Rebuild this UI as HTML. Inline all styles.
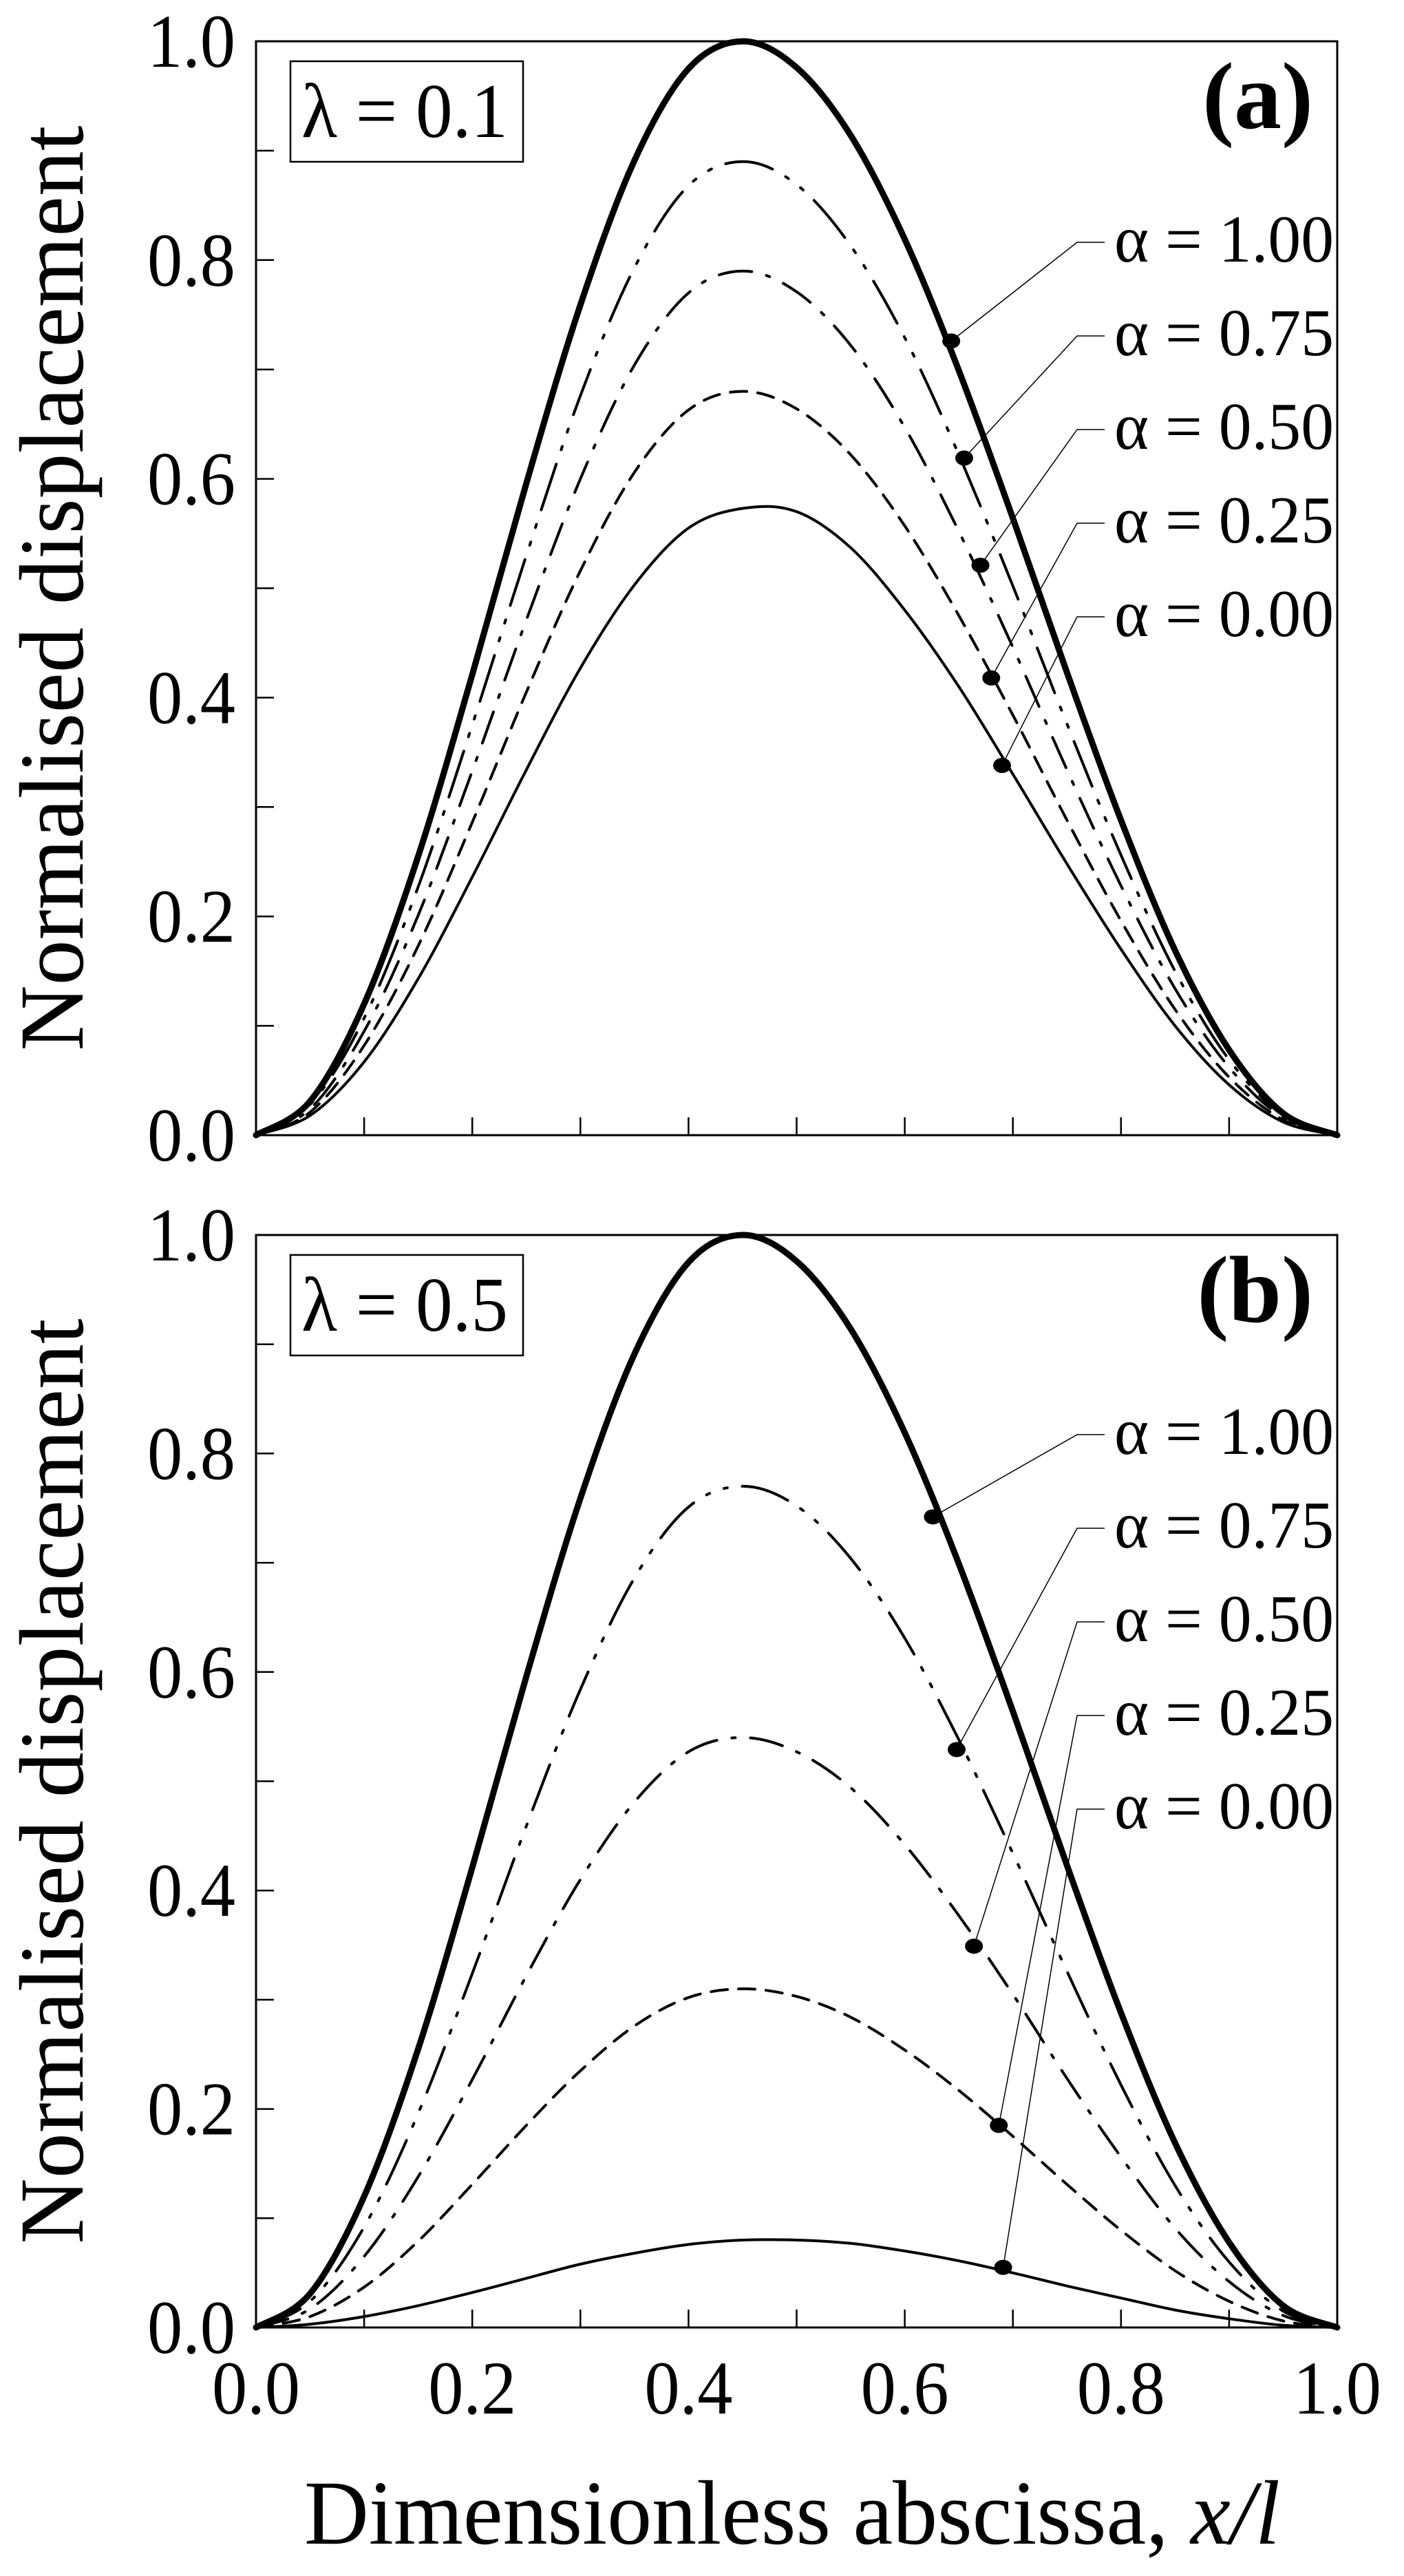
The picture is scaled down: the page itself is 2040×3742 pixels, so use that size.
<!DOCTYPE html>
<html><head><meta charset="utf-8"><style>
html,body{margin:0;padding:0;background:#fff;}
svg{display:block;}
text{font-family:"Liberation Serif","DejaVu Serif",serif;fill:#000;}
</style></head><body>
<svg id="chart" width="2040" height="3742" viewBox="0 0 2040 3742" xmlns="http://www.w3.org/2000/svg">
<rect x="0" y="0" width="2040" height="3742" fill="#fff"/>
</svg>
<script>
const xs = [0,0.05,0.1,0.15,0.2,0.25,0.3,0.35,0.4,0.45,0.5,0.55,0.6,0.65,0.7,0.75,0.8,0.85,0.9,0.95,1];
const alphaLabels = ["α = 1.00","α = 0.75","α = 0.50","α = 0.25","α = 0.00"];
const yTickLabels = ["0.0","0.2","0.4","0.6","0.8","1.0"];
const xTickLabels = ["0.0","0.2","0.4","0.6","0.8","1.0"];
const a100 = [0,0.031,0.120,0.255,0.421,0.596,0.759,0.891,0.975,1.000,0.976,0.914,0.819,0.699,0.564,0.423,0.288,0.169,0.078,0.020,0];
const a075 = [0,0.028,0.107,0.227,0.375,0.530,0.676,0.793,0.868,0.890,0.869,0.813,0.729,0.622,0.502,0.376,0.256,0.150,0.069,0.018,0];
const a050 = [0,0.024,0.095,0.201,0.333,0.471,0.600,0.704,0.770,0.790,0.771,0.722,0.647,0.552,0.446,0.334,0.228,0.134,0.062,0.016,0];
const a025 = [0,0.021,0.082,0.173,0.286,0.405,0.516,0.606,0.663,0.680,0.664,0.622,0.557,0.475,0.384,0.288,0.196,0.115,0.053,0.014,0];
const a000 = [0,0.018,0.067,0.143,0.236,0.334,0.427,0.503,0.555,0.573,0.570,0.537,0.480,0.410,0.330,0.248,0.170,0.100,0.046,0.012,0];
const b100 = [0,0.031,0.120,0.255,0.421,0.596,0.759,0.891,0.975,1.000,0.976,0.914,0.819,0.699,0.564,0.423,0.288,0.169,0.078,0.020,0];
const b075 = [0,0.024,0.092,0.196,0.324,0.459,0.584,0.686,0.751,0.770,0.752,0.704,0.631,0.538,0.434,0.326,0.222,0.130,0.060,0.015,0];
const b050 = [0,0.017,0.065,0.138,0.227,0.322,0.410,0.481,0.527,0.540,0.527,0.494,0.442,0.377,0.305,0.228,0.156,0.091,0.042,0.011,0];
const b025 = [0,0.010,0.037,0.079,0.131,0.185,0.235,0.276,0.302,0.310,0.303,0.284,0.254,0.217,0.175,0.131,0.089,0.052,0.024,0.006,0];
const b000 = [0,0.003,0.010,0.020,0.032,0.045,0.058,0.068,0.076,0.080,0.080,0.077,0.070,0.061,0.050,0.038,0.027,0.016,0.008,0.002,0];
const dotXa = [0.643,0.655,0.670,0.680,0.690];
const dotYa = [0.726,0.619,0.521,0.418,0.338];
const dotXb = [0.626,0.648,0.664,0.687,0.691];
const dotYb = [0.742,0.529,0.349,0.185,0.055];

const NS="http://www.w3.org/2000/svg";
const svg=document.getElementById('chart');
function mk(tag,attrs,parent){const e=document.createElementNS(NS,tag);for(const k in attrs)e.setAttribute(k,attrs[k]);(parent||svg).appendChild(e);return e;}

const X0=372,X1=1943;
const styles=[
 {w:9,dash:null},
 {w:4,dash:"70 22 5 22 5 22"},
 {w:4,dash:"48 22 5 22"},
 {w:4,dash:"24 16"},
 {w:4,dash:null}
];
function sx(v){return X0+v*(X1-X0);}

function panel(id,top,bottom,series,dotX,dotY,lam,tag,legendBase){
  const g=mk('g',{});
  
  
  const sy=v=>bottom-v*(bottom-top);
  // curves
  series.forEach((s,i)=>{
    const pts=xs.map((x,j)=>[sx(x),sy(s[j])]);
    let d='M'+pts[0][0]+','+pts[0][1];
    for(let j=0;j<pts.length-1;j++){
      const p0=pts[Math.max(0,j-1)],p1=pts[j],p2=pts[j+1],p3=pts[Math.min(pts.length-1,j+2)];
      const c1=[p1[0]+(p2[0]-p0[0])/6,p1[1]+(p2[1]-p0[1])/6];
      const c2=[p2[0]-(p3[0]-p1[0])/6,p2[1]-(p3[1]-p1[1])/6];
      d+=' C'+c1[0].toFixed(1)+','+c1[1].toFixed(1)+' '+c2[0].toFixed(1)+','+c2[1].toFixed(1)+' '+p2[0].toFixed(1)+','+p2[1].toFixed(1);
    }
    const p=mk('path',{d:d,fill:'none',stroke:'#000','stroke-width':styles[i].w,'stroke-linecap':'round'},g);
    if(styles[i].dash)p.setAttribute('stroke-dasharray',styles[i].dash);
    
    
  });
  // frame
  const fr=mk('rect',{x:X0,y:top,width:X1-X0,height:bottom-top,fill:'none',stroke:'#000','stroke-width':3},g);
  
  
  // ticks
  for(let k=0;k<=10;k++){
    const v=k/10;
    const t1=mk('line',{x1:X0,x2:X0+26,y1:sy(v),y2:sy(v),stroke:'#000','stroke-width':2.5},g);
    
    
    const t2=mk('line',{x1:sx(v),x2:sx(v),y1:bottom,y2:bottom-26,stroke:'#000','stroke-width':2.5},g);
    
    
  }
  yTickLabels.forEach((lab,k)=>{
    const t=mk('text',{x:342,y:sy(k*0.2)+37,'font-size':110,'text-anchor':'end',textLength:128,lengthAdjust:'spacingAndGlyphs'},g);
    t.textContent=lab;
    
    
  });
  // lambda box
  const lb=mk('rect',{x:422,y:top+29,width:338,height:146,fill:'#fff',stroke:'#000','stroke-width':2.5},g);
  
  
  const lt=mk('text',{x:438,y:top+139,'font-size':112,textLength:300,lengthAdjust:'spacingAndGlyphs'},g);
  lt.textContent=lam;
  
  
  const pt=mk('text',{x:1908,y:top+126,'font-size':138,'font-weight':'bold','text-anchor':'end'},g);
  pt.textContent=tag;
  
  
  // legend
  alphaLabels.forEach((lab,i)=>{
    const by=legendBase+i*136;
    const t=mk('text',{x:1938,y:by,'font-size':98,'text-anchor':'end',textLength:319,lengthAdjust:'spacingAndGlyphs'},g);
    t.textContent=lab;
    
    
    const ly=by-28;
    const hx0=1565,hx1=1605;
    const dx=sx(dotX[i]),dy=sy(dotY[i]);
    const pl=mk('polyline',{points:dx+','+dy+' '+hx0+','+ly+' '+hx1+','+ly,fill:'none',stroke:'#000','stroke-width':1.5},g);
    
    
    const dt=mk('ellipse',{cx:dx,cy:dy,rx:13,ry:11,fill:'#000'},g);
    
    
  });
  // y title
  const cy=(top+bottom)/2;
  const yt=mk('text',{x:0,y:0,'font-size':133,'text-anchor':'middle',textLength:1344,lengthAdjust:'spacingAndGlyphs',transform:'translate(120,'+cy+') rotate(-90)'},g);
  yt.textContent='Normalised displacement';
  
  
}

panel('a',60,1649,[a100,a075,a050,a025,a000],dotXa,dotYa,'λ = 0.1','(a)',380);
panel('b',1794,3381,[b100,b075,b050,b025,b000],dotXb,dotYb,'λ = 0.5','(b)',2112);

xTickLabels.forEach((lab,k)=>{
  const t=mk('text',{x:sx(k*0.2),y:3506,'font-size':110,'text-anchor':'middle',textLength:128,lengthAdjust:'spacingAndGlyphs'});
  t.textContent=lab;
  
  
});
const xt=mk('text',{x:442,y:3695,'font-size':133,textLength:1418,lengthAdjust:'spacingAndGlyphs'});


xt.appendChild(document.createTextNode('Dimensionless abscissa, '));
const it=mk('tspan',{'font-style':'italic'},xt);
it.textContent='x/l';
</script>
</body></html>
